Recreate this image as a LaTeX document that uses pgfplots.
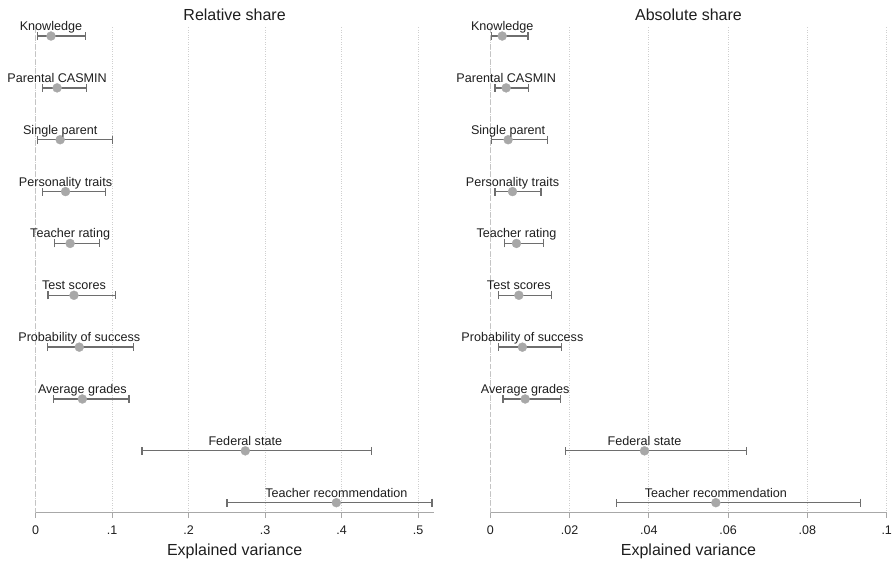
\documentclass[border=0pt]{standalone}
\usepackage{pgfplots}
\usepackage{pgfplotstable}
\pgfplotsset{compat=1.18}
\usepackage{fontspec}
\setmainfont{Liberation Sans}

\definecolor{barcol}{HTML}{6E6E6E}
\definecolor{markcol}{HTML}{A8A8A8}
\definecolor{axcol}{HTML}{A8A8A8}
\definecolor{gridcol}{HTML}{CFCFCF}
\definecolor{zerocol}{HTML}{C4C4C4}
\definecolor{txt}{HTML}{1E1E1E}

\pgfplotstableread[col sep=comma]{
y,x,lo,hi,label
10,0.020,0.002,0.065,Knowledge
9,0.028,0.009,0.066,Parental CASMIN
8,0.032,0.002,0.100,Single parent
7,0.039,0.009,0.091,Personality traits
6,0.045,0.025,0.083,Teacher rating
5,0.050,0.016,0.104,Test scores
4,0.057,0.015,0.128,Probability of success
3,0.061,0.023,0.122,Average grades
2,0.274,0.139,0.439,Federal state
1,0.393,0.250,0.518,Teacher recommendation
}\reltab

\pgfplotstableread[col sep=comma]{
y,x,lo,hi,label
10,0.0030,0.0003,0.0095,Knowledge
9,0.0040,0.0012,0.0097,Parental CASMIN
8,0.0045,0.0003,0.0145,Single parent
7,0.0056,0.0012,0.0128,Personality traits
6,0.0066,0.0035,0.0134,Teacher rating
5,0.0072,0.0021,0.0155,Test scores
4,0.0081,0.0021,0.0180,Probability of success
3,0.0088,0.0032,0.0177,Average grades
2,0.0389,0.0190,0.0647,Federal state
1,0.0569,0.0319,0.0933,Teacher recommendation
}\abstab

\pgfplotsset{
  panel/.style={
    scale only axis,
    height=486pt,
    ymin=0.807, ymax=10.18,
    axis y line=none,
    axis x line*=bottom,
    x axis line style={axcol, line width=0.9pt, -},
    xtick style={axcol, line width=0.9pt},
    tick align=outside,
    major tick length=5.5pt,
    xmajorgrids,
    major grid style={gridcol, dotted, line width=0.8pt},
    /pgf/number format/assume math mode=true,
    xticklabel style={font=\fontsize{12.5}{14}\selectfont, text=txt, anchor=base, yshift=-16pt},
    xlabel={Explained variance},
    xlabel style={font=\fontsize{16}{18}\selectfont, text=txt, at={(axis description cs:0.5,0)}, anchor=base, yshift=-43pt},
    title style={font=\fontsize{16}{18}\selectfont, text=txt, at={(axis description cs:0.5,1)}, anchor=base, yshift=0pt},
    clip=false,
  },
  ebar/.style={
    only marks,
    color=barcol,
    mark=*,
    mark size=4.5pt,
    mark options={draw=markcol, fill=markcol, line width=0.3pt},
    error bars/.cd,
      x dir=both, x explicit,
      error bar style={barcol, line width=1.3pt},
      error mark options={rotate=90, barcol, mark size=4pt, line width=1.2pt},
    /pgfplots/.cd,
    nodes near coords,
    point meta=explicit symbolic,
    every node near coord/.append style={font=\fontsize{12.6}{14}\selectfont, text=txt, anchor=base, yshift=5.5pt, inner sep=0pt},
  },
}

\begin{document}
\begin{tikzpicture}
\useasboundingbox (0,0) rectangle (893pt,562pt);

\begin{axis}[panel,
  at={(35.7pt,49.3pt)}, anchor=south west,
  width=397.8pt,
  xmin=0, xmax=0.52,
  xtick={0,0.1,0.2,0.3,0.4,0.5},
  xticklabels={0,.1,.2,.3,.4,.5},
  title={Relative share}]
\addplot[zerocol, dashed, line width=0.9pt, dash pattern=on 5pt off 3pt, forget plot] coordinates {(0,0.807) (0,10.18)};
\addplot[ebar] table[x=x, y=y, meta=label,
  x error plus expr=\thisrow{hi}-\thisrow{x},
  x error minus expr=\thisrow{x}-\thisrow{lo}] {\reltab};
\end{axis}

\begin{axis}[panel,
  at={(490.3pt,49.3pt)}, anchor=south west,
  width=396.4pt,
  xmin=0, xmax=0.1,
  xtick={0,0.02,0.04,0.06,0.08,0.1},
  xticklabels={0,.02,.04,.06,.08,.1},
  title={Absolute share}]
\addplot[zerocol, dashed, line width=0.9pt, dash pattern=on 5pt off 3pt, forget plot] coordinates {(0,0.807) (0,10.18)};
\addplot[ebar] table[x=x, y=y, meta=label,
  x error plus expr=\thisrow{hi}-\thisrow{x},
  x error minus expr=\thisrow{x}-\thisrow{lo}] {\abstab};
\end{axis}
\end{tikzpicture}
\end{document}
